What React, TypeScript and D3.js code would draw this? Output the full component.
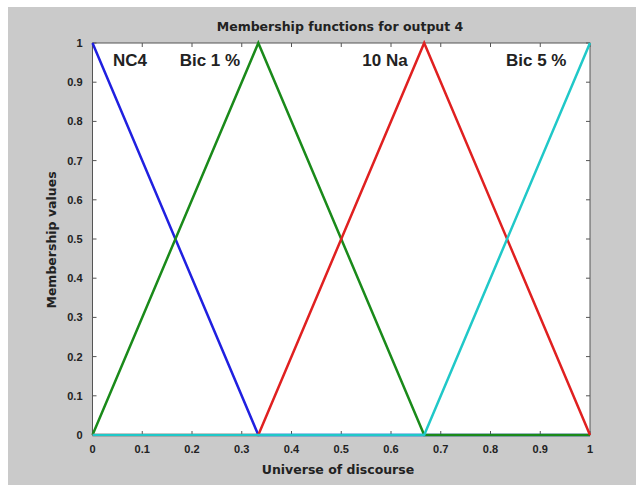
import React from "react";
import * as d3 from "d3";

const xPoints = [0, 0.3333, 0.6667, 1];
const blueMF = [1, 0, 0, 0];
const greenMF = [0, 1, 0, 0];
const redMF = [0, 0, 1, 0];
const cyanMF = [0, 0, 0, 1];
const seriesColors = ["#2020e0", "#1a8a1a", "#e02020", "#20c8c8"];
const mfLabels = ["NC4", "Bic 1 %", "10 Na", "Bic 5 %"];
const labelX = [0.0754, 0.236, 0.588, 0.892];
const xTicks = [0, 0.1, 0.2, 0.3, 0.4, 0.5, 0.6, 0.7, 0.8, 0.9, 1];
const yTicks = [0, 0.1, 0.2, 0.3, 0.4, 0.5, 0.6, 0.7, 0.8, 0.9, 1];

export default function App() {
  const W = 636, H = 485;
  const L = 92.5, R = 590, T = 43, B = 435;
  const x = d3.scaleLinear().domain([0, 1]).range([L, R]);
  const y = d3.scaleLinear().domain([0, 1]).range([B, T]);
  const series = [blueMF, greenMF, redMF, cyanMF];
  const line = d3.line<number>().x((_, i) => x(xPoints[i])).y((d) => y(d));
  const fmt = (v: number) => String(v);
  const tickLen = 4;
  const wide = "DejaVu Sans, Verdana, sans-serif";
  const narrow = "Liberation Sans, Arial, sans-serif";
  return (
    <svg width={W} height={H} style={{ position: "absolute", left: 0, top: 0 }}>
      <rect x={0} y={0} width={W} height={H} fill="#ffffff" />
      <rect x={8} y={7} width={W - 8} height={H - 7} fill="#cacaca" />
      <rect x={L} y={T} width={R - L} height={B - T} fill="#ffffff" />
      <g fontWeight="bold" fill="#222">
        <text x={340} y={31} textAnchor="middle" fontSize={12.5} fontFamily={wide}>Membership functions for output 4</text>
        <text x={338} y={474} textAnchor="middle" fontSize={12.5} fontFamily={wide}>Universe of discourse</text>
        <text transform={`translate(56,240) rotate(-90)`} textAnchor="middle" fontSize={12.5} fontFamily={wide}>Membership values</text>
        {xTicks.map((t) => (
          <text key={"xt" + t} x={x(t)} y={453} textAnchor="middle" fontSize={11} fontFamily={narrow}>{fmt(t)}</text>
        ))}
        {yTicks.map((t) => (
          <text key={"yt" + t} x={L - 10} y={y(t) + 4} textAnchor="end" fontSize={11} fontFamily={narrow}>{fmt(t)}</text>
        ))}
      </g>
      <g stroke="#555" strokeWidth={1}>
        {xTicks.map((t) => (
          <g key={"xk" + t}>
            <line x1={x(t)} x2={x(t)} y1={B} y2={B - tickLen} />
            <line x1={x(t)} x2={x(t)} y1={T} y2={T + tickLen} />
          </g>
        ))}
        {yTicks.map((t) => (
          <g key={"yk" + t}>
            <line x1={L} x2={L + tickLen} y1={y(t)} y2={y(t)} />
            <line x1={R} x2={R - tickLen} y1={y(t)} y2={y(t)} />
          </g>
        ))}
      </g>
      <rect x={L} y={T} width={R - L} height={B - T} fill="none" stroke="#555" strokeWidth={1} />
      {series.map((s, i) => (
        <path key={"s" + i} d={line(s) || ""} fill="none" stroke={seriesColors[i]} strokeWidth={2.5} strokeLinejoin="miter" />
      ))}
      <g fontFamily={narrow} fontSize={17} fontWeight="bold" fill="#222">
        {mfLabels.map((lab, i) => (
          <text key={"lab" + i} x={x(labelX[i])} y={66} textAnchor="middle">{lab}</text>
        ))}
      </g>
    </svg>
  );
}
